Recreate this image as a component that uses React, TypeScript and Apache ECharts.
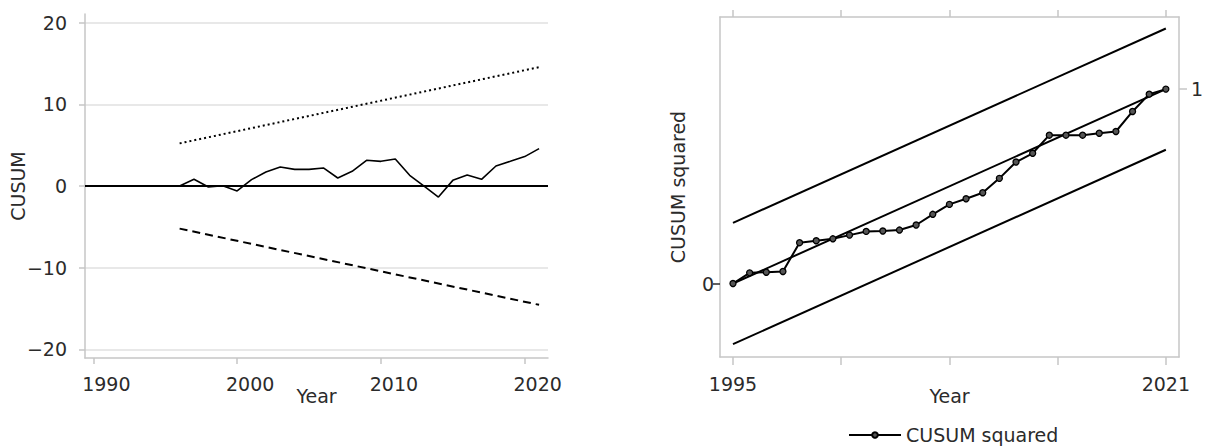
import React, { useEffect, useRef } from "react";
import * as echarts from "echarts";

// ---- Data ----
const cusumYears = [1996, 1997, 1998, 1999, 2000, 2001, 2002, 2003, 2004, 2005, 2006, 2007, 2008, 2009, 2010, 2011, 2012, 2013, 2014, 2015, 2016, 2017, 2018, 2019, 2020, 2021];
const cusumValues = [0, 0.82, -0.12, 0.04, -0.61, 0.78, 1.72, 2.33, 2.04, 2.04, 2.21, 0.98, 1.8, 3.15, 3.02, 3.31, 1.31, -0.02, -1.35, 0.69, 1.35, 0.82, 2.45, 3.02, 3.6, 4.58];
const boundYears = [1996, 2021];
const upperBound = [5.22, 14.55];
const lowerBound = [-5.22, -14.55];

const sqYears = [1995, 1996, 1997, 1998, 1999, 2000, 2001, 2002, 2003, 2004, 2005, 2006, 2007, 2008, 2009, 2010, 2011, 2012, 2013, 2014, 2015, 2016, 2017, 2018, 2019, 2020, 2021];
const cusumSqValues = [0, 0.055, 0.058, 0.062, 0.21, 0.22, 0.23, 0.249, 0.268, 0.27, 0.275, 0.301, 0.356, 0.407, 0.436, 0.467, 0.541, 0.625, 0.67, 0.763, 0.763, 0.763, 0.773, 0.782, 0.885, 0.974, 1.0];
const sqLineYears = [1995, 2021];
const sqExpected = [0, 1];
const sqUpper = [0.312, 1.312];
const sqLower = [-0.312, 0.688];

const leftXTicks = [1990, 2000, 2010, 2020];
const leftYTicks = [-20, -10, 0, 10, 20];
const rightXTicks = [1995, 2001.5, 2008, 2014.5, 2021];
const rightXLabels = [1995, 2021];
const rightYLeftTicks = [0];
const rightYRightTicks = [1];

const zip = (xs: number[], ys: number[]) => xs.map((x, i) => [x, ys[i]]);

const FONT = "DejaVu Sans";
const TEXT = "#2b2b2b";
const AXIS = "#c6c6c6";
const GRID = "#e0e0e0";
const FS = 19;

export default function App() {
  const ref = useRef<HTMLDivElement>(null);

  useEffect(() => {
    document.body.style.margin = "0";
    if (!ref.current) return;
    const chart = echarts.init(ref.current, null, { renderer: "svg" });

    const axisLine = { show: true, onZero: false, lineStyle: { color: AXIS, width: 1.5 } };
    const fmt = (v: number) => (v < 0 ? "\u2212" + Math.abs(v) : String(v));
    const plain = (v: number) => String(v);

    const option: any = {
      animation: false,
      backgroundColor: "#fff",
      textStyle: { fontFamily: FONT, color: TEXT, fontSize: FS },
      grid: [
        { left: 85, right: 660, top: 14, bottom: 88 },
        { left: 720, right: 29, top: 17, bottom: 89 },
      ],
      legend: {
        data: ["CUSUM squared"],
        left: 848,
        top: 425,
        padding: 0,
        itemWidth: 52,
        itemHeight: 7,
        textStyle: { fontFamily: FONT, color: TEXT, fontSize: FS, lineHeight: 20 },
      },
      xAxis: [
        {
          type: "value",
          gridIndex: 0,
          min: 1989.42,
          max: 2021.62,
          name: "Year",
          nameLocation: "middle",
          nameGap: 28,
          nameMoveOverlap: false,
          nameTextStyle: { fontFamily: FONT, color: TEXT, fontSize: FS },
          axisLine,
          axisTick: { show: true, length: 6, customValues: leftXTicks, lineStyle: { color: AXIS, width: 1.5 } },
          axisLabel: {
            customValues: leftXTicks,
            formatter: plain,
            margin: 16,
            padding: [0, 0, 0, 26],
            fontFamily: FONT,
            color: TEXT,
            fontSize: FS,
          },
          splitLine: { show: false },
        },
        {
          type: "value",
          gridIndex: 1,
          position: "bottom",
          min: 1994.22,
          max: 2021.79,
          name: "Year",
          nameLocation: "middle",
          nameGap: 29,
          nameMoveOverlap: false,
          nameTextStyle: { fontFamily: FONT, color: TEXT, fontSize: FS },
          axisLine,
          axisTick: { show: true, length: 8, customValues: rightXTicks, lineStyle: { color: AXIS, width: 1.5 } },
          axisLabel: { customValues: rightXLabels, formatter: plain, margin: 17, fontFamily: FONT, color: TEXT, fontSize: FS },
          splitLine: { show: false },
        },
        {
          type: "value",
          gridIndex: 1,
          position: "top",
          min: 1994.22,
          max: 2021.79,
          axisLine,
          axisTick: { show: true, length: 7, customValues: rightXTicks, lineStyle: { color: AXIS, width: 1.5 } },
          axisLabel: { show: false },
          splitLine: { show: false },
        },
      ],
      yAxis: [
        {
          type: "value",
          gridIndex: 0,
          min: -21.06,
          max: 21.06,
          name: "CUSUM",
          nameLocation: "middle",
          nameGap: 58,
          nameMoveOverlap: false,
          nameTextStyle: { fontFamily: FONT, color: TEXT, fontSize: FS },
          axisLine,
          axisTick: { show: true, length: 6, customValues: leftYTicks, lineStyle: { color: AXIS, width: 1.5 } },
          axisLabel: { customValues: leftYTicks, margin: 18, formatter: fmt, fontFamily: FONT, color: TEXT, fontSize: FS },
          splitLine: { show: true, lineStyle: { color: GRID, width: 1.5 } },
        },
        {
          type: "value",
          gridIndex: 1,
          position: "left",
          min: -0.378,
          max: 1.371,
          name: "CUSUM squared",
          nameLocation: "middle",
          nameGap: 33,
          nameMoveOverlap: false,
          nameTextStyle: { fontFamily: FONT, color: TEXT, fontSize: FS },
          axisLine,
          axisTick: { show: true, length: 7, customValues: rightYLeftTicks, lineStyle: { color: TEXT, width: 1.5 } },
          axisLabel: { customValues: rightYLeftTicks, formatter: plain, margin: 6, fontFamily: FONT, color: TEXT, fontSize: FS },
          splitLine: { show: false },
        },
        {
          type: "value",
          gridIndex: 1,
          position: "right",
          min: -0.378,
          max: 1.371,
          axisLine,
          axisTick: { show: true, length: 8, customValues: rightYRightTicks, lineStyle: { color: AXIS, width: 1.5 } },
          axisLabel: { customValues: rightYRightTicks, formatter: plain, margin: 12, fontFamily: FONT, color: TEXT, fontSize: FS },
          splitLine: { show: false },
        },
      ],
      series: [
        {
          name: "CUSUM",
          type: "line",
          xAxisIndex: 0,
          yAxisIndex: 0,
          data: zip(cusumYears, cusumValues),
          showSymbol: false,
          symbol: "none",
          lineStyle: { color: "#000", width: 1.6 },
          markLine: {
            silent: true,
            symbol: ["none", "none"],
            label: { show: false },
            lineStyle: { color: "#000", width: 2, type: "solid" },
            data: [{ yAxis: 0 }],
          },
        },
        {
          name: "Upper",
          type: "line",
          xAxisIndex: 0,
          yAxisIndex: 0,
          data: zip(boundYears, upperBound),
          symbol: "none",
          lineStyle: { color: "#000", width: 2, type: [2, 3] },
        },
        {
          name: "Lower",
          type: "line",
          xAxisIndex: 0,
          yAxisIndex: 0,
          data: zip(boundYears, lowerBound),
          symbol: "none",
          lineStyle: { color: "#000", width: 2, type: [8, 5] },
        },
        {
          name: "Expected",
          type: "line",
          xAxisIndex: 1,
          yAxisIndex: 1,
          data: zip(sqLineYears, sqExpected),
          symbol: "none",
          lineStyle: { color: "#000", width: 2 },
        },
        {
          name: "SqUpper",
          type: "line",
          xAxisIndex: 1,
          yAxisIndex: 1,
          data: zip(sqLineYears, sqUpper),
          symbol: "none",
          lineStyle: { color: "#000", width: 2 },
        },
        {
          name: "SqLower",
          type: "line",
          xAxisIndex: 1,
          yAxisIndex: 1,
          data: zip(sqLineYears, sqLower),
          symbol: "none",
          lineStyle: { color: "#000", width: 2 },
        },
        {
          name: "CUSUM squared",
          type: "line",
          xAxisIndex: 1,
          yAxisIndex: 1,
          data: zip(sqYears, cusumSqValues),
          symbol: "circle",
          symbolSize: 6,
          showSymbol: true,
          lineStyle: { color: "#000", width: 2 },
          itemStyle: { color: "#555", borderColor: "#000", borderWidth: 1.3 },
        },
      ],
    };

    chart.setOption(option);
    return () => chart.dispose();
  }, []);

  return <div ref={ref} style={{ width: 1208, height: 446 }} />;
}
